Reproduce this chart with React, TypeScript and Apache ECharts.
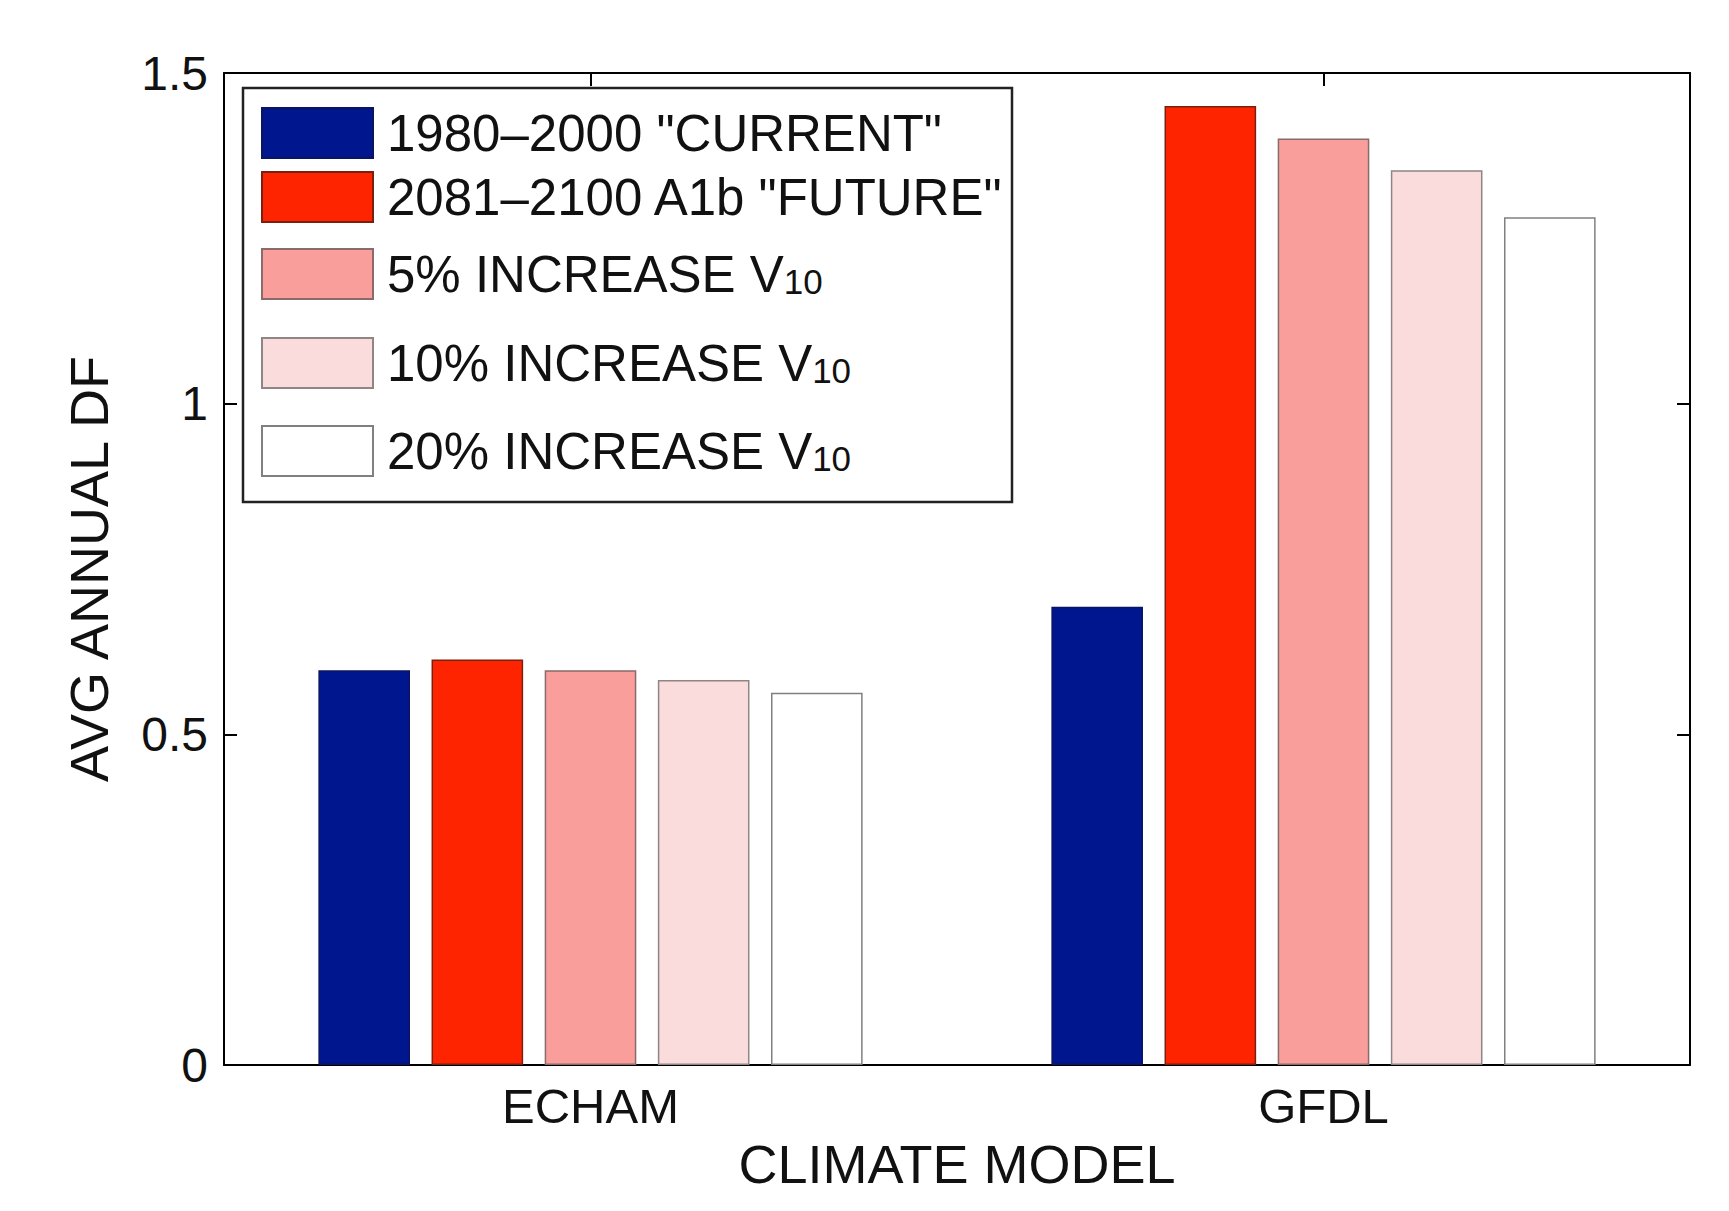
import React, { useEffect, useRef } from "react";
import * as echarts from "echarts";

const categories = ["ECHAM", "GFDL"];
const seriesNames = [
  '1980\u20132000 "CURRENT"',
  '2081\u20132100 A1b "FUTURE"',
  "5% INCREASE V10",
  "10% INCREASE V10",
  "20% INCREASE V10",
];
const current = [0.597, 0.693];
const future = [0.613, 1.45];
const inc5 = [0.597, 1.401];
const inc10 = [0.582, 1.353];
const inc20 = [0.563, 1.282];
const seriesValues = [current, future, inc5, inc10, inc20];
const colors = ["#00168F", "#FF2400", "#F99E9B", "#FBDCDC", "#FFFFFF"];
const borderColors = ["#0a1460", "#7a2010", "#8a6a6a", "#8f8585", "#808080"];
const yTicks = [0, 0.5, 1, 1.5];

const FONT = "Liberation Sans, Arial, Helvetica, sans-serif";

export default function App() {
  const ref = useRef<HTMLDivElement>(null);
  useEffect(() => {
    if (!ref.current) return;
    const chart = echarts.init(ref.current, null, { renderer: "svg" });
    const legendTops = [107, 171, 242, 331, 419];
    const legends = seriesNames.map((n, i) => ({
      data: [n],
      left: 261,
      top: legendTops[i],
      orient: "vertical",
      itemWidth: 111,
      itemHeight: 50,
      padding: 0,
      selectedMode: false,
      icon: "rect",
      formatter: (name: string) =>
        name.endsWith("V10") ? name.slice(0, -2) + "{sub|10}" : name,
      textStyle: {
        fontFamily: FONT,
        fontSize: 51,
        color: "#111",
        lineHeight: 50,
        padding: [0, 0, 0, 9],
        rich: {
          sub: {
            fontFamily: FONT,
            fontSize: 35,
            color: "#111",
            lineHeight: 50,
            verticalAlign: "bottom",
            padding: [22, 0, 0, 0],
          },
        },
      },
    }));
    const axisLineStyle = { color: "#000", width: 2 };
    chart.setOption({
      animation: false,
      backgroundColor: "#fff",
      grid: { left: 224, right: 39, top: 73, bottom: 146, containLabel: false },
      legend: legends,
      graphic: [
        {
          type: "rect",
          z: 1,
          shape: { x: 243, y: 88, width: 769, height: 414 },
          style: { fill: "#fff", stroke: "#222", lineWidth: 2.5 },
        },
      ],
      xAxis: [
        {
          type: "category",
          data: categories,
          position: "bottom",
          axisLine: { show: true, onZero: false, lineStyle: axisLineStyle },
          axisTick: { show: true, inside: true, alignWithLabel: true, length: 13, lineStyle: axisLineStyle },
          axisLabel: { fontFamily: FONT, fontSize: 49, color: "#111", margin: 16 },
          name: "CLIMATE MODEL",
          nameLocation: "middle",
          nameGap: 72,
          nameTextStyle: { fontFamily: FONT, fontSize: 54, color: "#111" },
        },
        {
          type: "category",
          data: categories,
          position: "top",
          axisLine: { show: true, onZero: false, lineStyle: axisLineStyle },
          axisTick: { show: true, inside: true, alignWithLabel: true, length: 13, lineStyle: axisLineStyle },
          axisLabel: { show: false },
        },
      ],
      yAxis: [
        {
          type: "value",
          min: 0,
          max: 1.5,
          interval: 0.5,
          position: "left",
          axisLine: { show: true, onZero: false, lineStyle: axisLineStyle },
          axisTick: { show: true, inside: true, length: 13, lineStyle: axisLineStyle },
          splitLine: { show: false },
          axisLabel: {
            fontFamily: FONT,
            fontSize: 48,
            color: "#111",
            margin: 16,
            formatter: (v: number) => (yTicks.includes(v) ? String(v) : ""),
          },
          name: "AVG ANNUAL DF",
          nameLocation: "middle",
          nameGap: 108,
          nameTextStyle: { fontFamily: FONT, fontSize: 54, color: "#111" },
        },
        {
          type: "value",
          min: 0,
          max: 1.5,
          interval: 0.5,
          position: "right",
          axisLine: { show: true, onZero: false, lineStyle: axisLineStyle },
          axisTick: { show: true, inside: true, length: 13, lineStyle: axisLineStyle },
          splitLine: { show: false },
          axisLabel: { show: false },
        },
      ],
      series: seriesNames.map((n, i) => ({
        name: n,
        type: "bar",
        xAxisIndex: 0,
        yAxisIndex: 0,
        data: seriesValues[i],
        barWidth: "12.5%",
        barGap: "23.5%",
        itemStyle: { color: colors[i], borderColor: borderColors[i], borderWidth: 1.5 },
      })),
    });
    return () => chart.dispose();
  }, []);
  return (
    <div
      ref={ref}
      style={{ position: "fixed", left: 0, top: 0, width: 1729, height: 1211, background: "#fff" }}
    />
  );
}
